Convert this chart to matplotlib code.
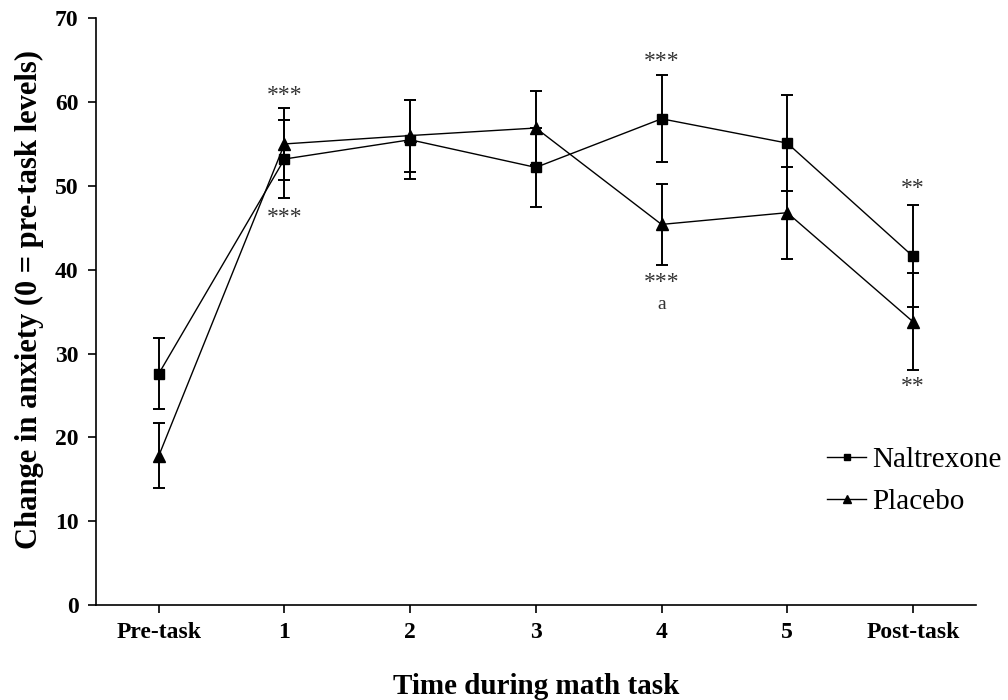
import matplotlib
matplotlib.use('Agg')
import matplotlib.pyplot as plt

# data
time_labels = ['Pre-task', '1', '2', '3', '4', '5', 'Post-task']
naltrexone = [27.6, 53.2, 55.5, 52.2, 58.0, 55.1, 41.6]
naltrexone_err = [4.2, 4.6, 4.7, 4.7, 5.2, 5.7, 6.1]
placebo = [17.8, 55.0, 56.0, 56.9, 45.4, 46.8, 33.8]
placebo_err = [3.9, 4.3, 4.3, 4.4, 4.8, 5.5, 5.8]

# significance marks: (time index, y, text)
marks = [(1, 60.8, '***'), (1, 46.2, '***'),
         (4, 64.8, '***'), (4, 38.5, '***'), (4, 35.9, 'a'),
         (6, 49.7, '**'), (6, 26.1, '**')]

plt.rcParams['font.family'] = ['Liberation Serif', 'DejaVu Serif']

fig = plt.figure(figsize=(10.08, 7), dpi=100)
ax = fig.add_axes([0.0952, 0.1357, 0.968 - 0.0952, 0.974 - 0.1357])

x = list(range(len(time_labels)))

ax.errorbar(x, naltrexone, yerr=naltrexone_err, color='black', lw=1.0,
            marker='s', ms=6.5, elinewidth=1.4, capsize=4.5, capthick=1.4,
            label='Naltrexone')
ax.errorbar(x, placebo, yerr=placebo_err, color='black', lw=1.0,
            marker='^', ms=8, elinewidth=1.4, capsize=4.5, capthick=1.4,
            label='Placebo')

for xi, yi, txt in marks:
    size = 14 if txt == 'a' else 17
    ax.text(xi, yi, txt, ha='center', va='center', fontsize=size, color='#333333')

ax.set_xlim(-0.5, 6.5)
ax.set_ylim(0, 70)
ax.set_xticks(x)
ax.set_xticklabels(time_labels)
ax.set_yticks(range(0, 71, 10))

for side in ['top', 'right']:
    ax.spines[side].set_visible(False)
for side in ['left', 'bottom']:
    ax.spines[side].set_linewidth(1.2)

ax.tick_params(axis='both', direction='out', length=5.5, width=1.2,
               labelsize=17, pad=7)
for lab in ax.get_xticklabels() + ax.get_yticklabels():
    lab.set_fontweight('bold')

ax.set_xlabel('Time during math task', fontsize=21, fontweight='bold', labelpad=21)
ax.set_ylabel('Change in anxiety (0 = pre-task levels)', fontsize=22,
              fontweight='bold')
ax.yaxis.set_label_coords(-0.0595, 0.52)

handles, labels = ax.get_legend_handles_labels()
handles = [h[0] for h in handles]
leg = fig.legend(handles, labels, loc='center left',
                 bbox_to_anchor=(827 / 1008, (700 - 481) / 700),
                 frameon=False, fontsize=21, handlelength=1.35,
                 handletextpad=0.2, labelspacing=0.55, borderpad=0,
                 borderaxespad=0, markerscale=0.75)

fig.savefig('out.png', dpi=100)
